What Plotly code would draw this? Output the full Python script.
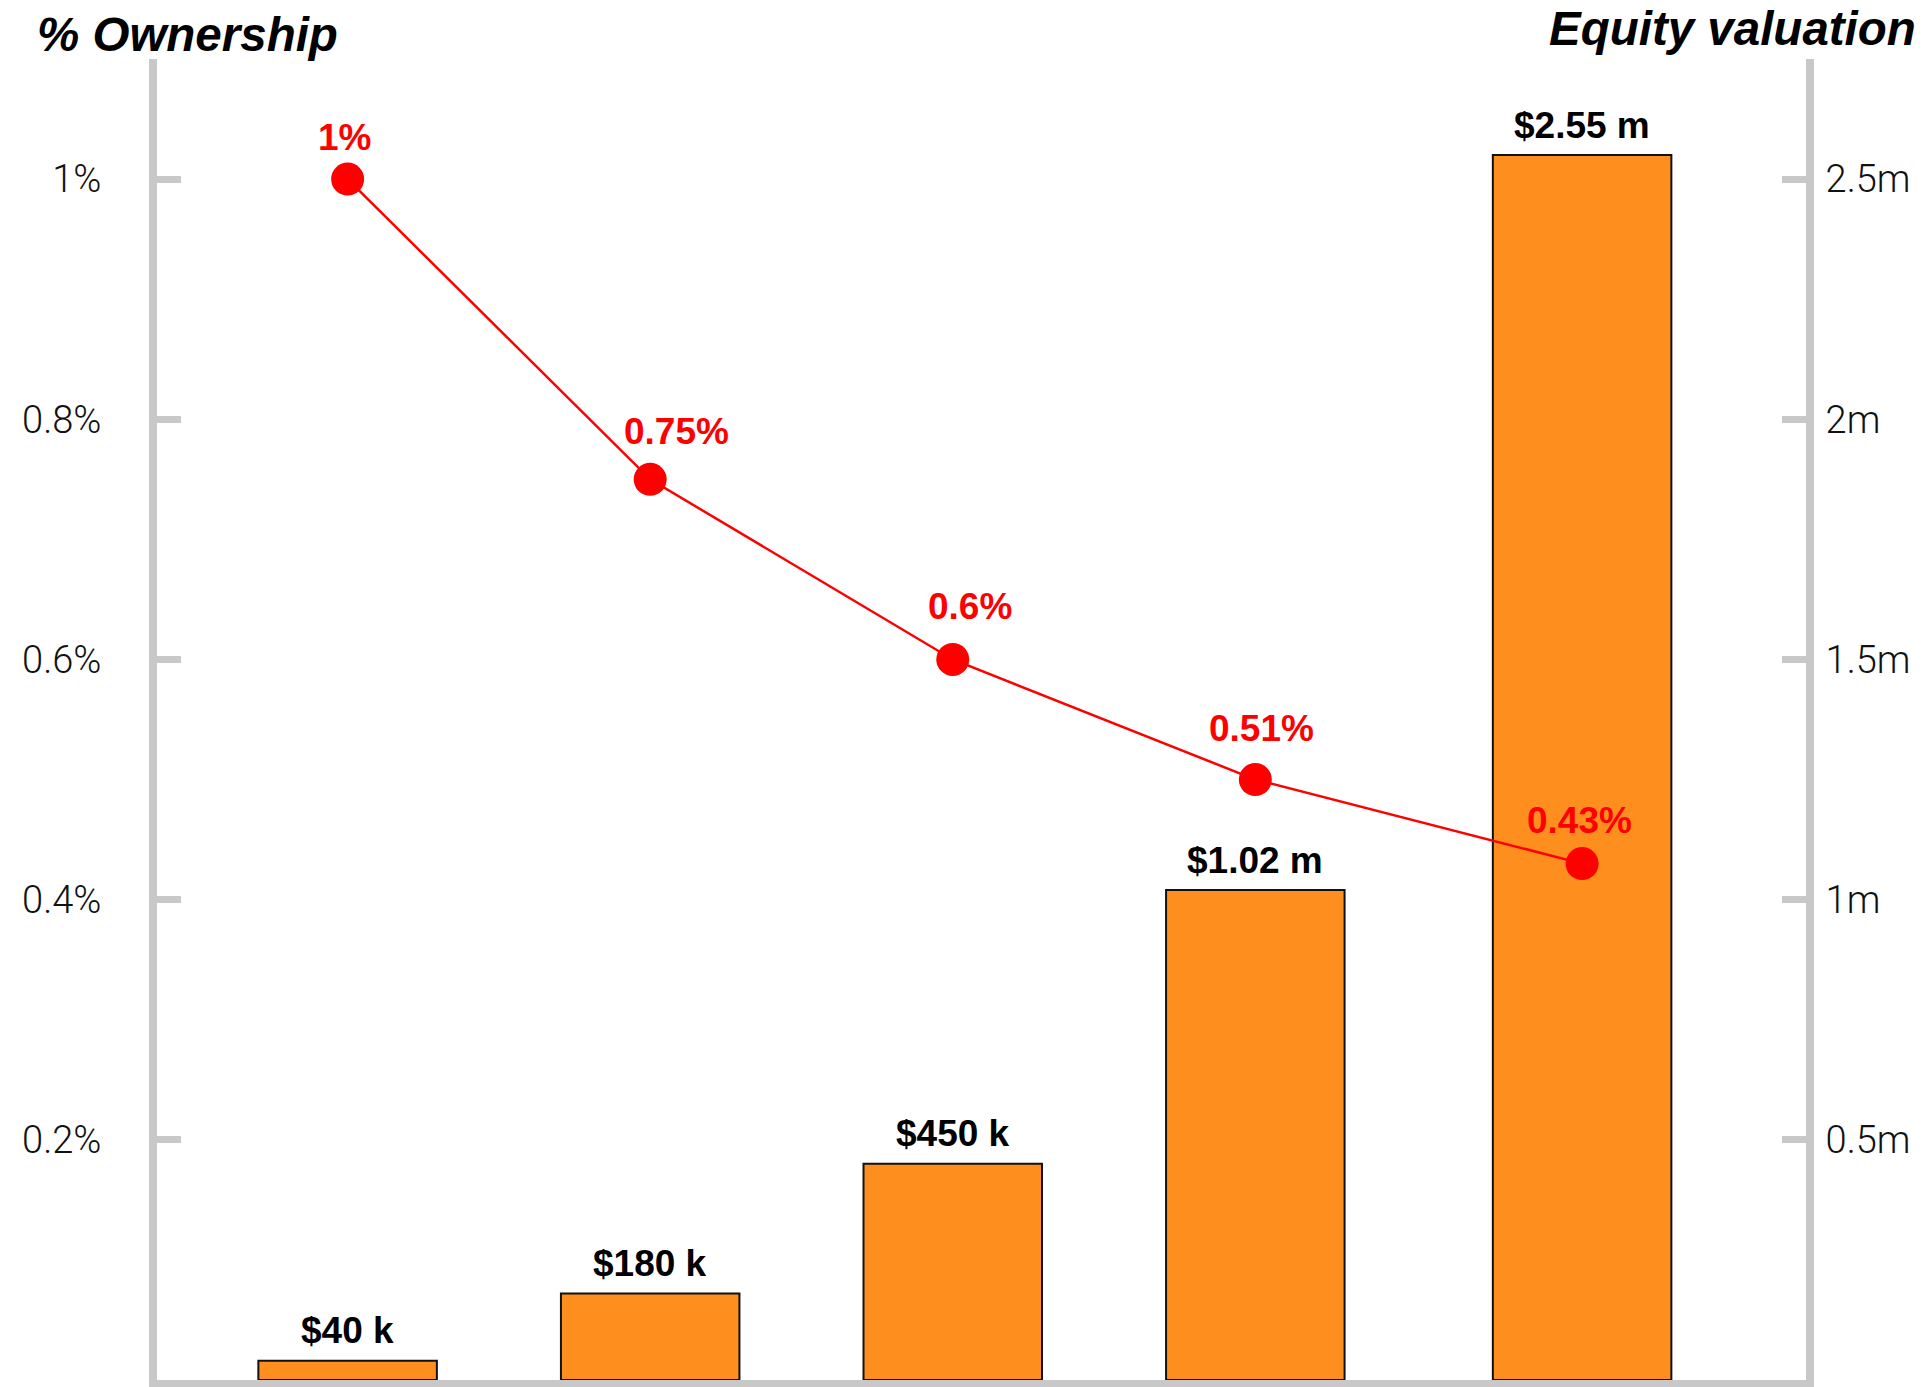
import plotly.graph_objects as go

# ---- data ----
rounds = [0, 1, 2, 3, 4.08]                      # funding stage positions
valuation_m = [0.04, 0.18, 0.45, 1.02, 2.55]     # equity valuation ($m)
valuation_labels = ["$40 k", "$180 k", "$450 k", "$1.02 m", "$2.55 m"]
ownership_pct = [1.0, 0.75, 0.6, 0.5, 0.43]      # % ownership
ownership_labels = ["1%", "0.75%", "0.6%", "0.51%", "0.43%"]

left_tickvals = [0.2, 0.4, 0.6, 0.8, 1.0]
left_ticktext = ["0.2%", "0.4%", "0.6%", "0.8%", "1%"]
right_tickvals = [0.5, 1.0, 1.5, 2.0, 2.5]
right_ticktext = ["0.5m", "1m", "1.5m", "2m", "2.5m"]

# ---- styles ----
AXIS_GREY = "#c8c8c8"
ORANGE = "#fe8f1f"
RED = "#ff0000"
label_dx = [-3, 26, 17, 6, -3]
label_dy = [42, 48, 53, 51, 43]

fig = go.Figure()
fig.add_trace(go.Bar(
    x=rounds, y=valuation_m, yaxis="y",
    width=0.59,
    marker=dict(color=ORANGE, line=dict(color="#111111", width=2)),
    hoverinfo="skip", showlegend=False,
))
fig.add_trace(go.Scatter(
    x=rounds, y=ownership_pct, yaxis="y2",
    mode="lines+markers",
    line=dict(color=RED, width=2.5),
    marker=dict(color=RED, size=33),
    hoverinfo="skip", showlegend=False,
))

annotations = []
for xv, yv, t in zip(rounds, valuation_m, valuation_labels):
    annotations.append(dict(
        x=xv, y=yv, xref="x", yref="y", text=t, showarrow=False,
        yanchor="middle", xanchor="center", yshift=30,
        font=dict(family="Liberation Sans", size=37, color="#000000", weight="bold"),
    ))
for xv, yv, t, dx, dy in zip(rounds, ownership_pct, ownership_labels, label_dx, label_dy):
    annotations.append(dict(
        x=xv, y=yv, xref="x", yref="y2", text=t, showarrow=False,
        yanchor="middle", xanchor="center", xshift=dx, yshift=dy,
        font=dict(family="Liberation Sans", size=37, color=RED, weight="bold"),
    ))
annotations.append(dict(
    x=0, y=1, xref="paper", yref="paper", text="% Ownership", showarrow=False,
    xanchor="left", yanchor="middle", xshift=-122, yshift=25,
    font=dict(family="Liberation Sans", size=47.5, color="#000000", weight="bold", style="italic"),
))
annotations.append(dict(
    x=1, y=1, xref="paper", yref="paper", text="Equity valuation", showarrow=False,
    xanchor="right", yanchor="middle", xshift=112, yshift=31,
    font=dict(family="Liberation Sans", size=47.5, color="#000000", weight="bold", style="italic"),
))

tick_font = dict(family="Roboto", size=38, color="#111111", weight=300)

fig.update_layout(
    width=1923, height=1387,
    margin=dict(l=157, r=117, t=59, b=7),
    paper_bgcolor="white", plot_bgcolor="white",
    annotations=annotations,
    xaxis=dict(
        range=[-0.63, 4.82], showgrid=False, zeroline=False,
        showticklabels=False, ticks="",
        showline=True, linecolor=AXIS_GREY, linewidth=7,
    ),
    yaxis=dict(
        side="right", range=[0, 2.75], showgrid=False, zeroline=False,
        tickvals=right_tickvals, ticktext=right_ticktext,
        ticks="inside", ticklen=24, tickwidth=7, tickcolor=AXIS_GREY,
        showline=True, linecolor=AXIS_GREY, linewidth=8,
        tickfont=tick_font, ticklabelstandoff=4,
    ),
    yaxis2=dict(
        overlaying="y", side="left", range=[0, 1.1], showgrid=False, zeroline=False,
        tickvals=left_tickvals, ticktext=left_ticktext,
        ticks="inside", ticklen=24, tickwidth=7, tickcolor=AXIS_GREY,
        showline=True, linecolor=AXIS_GREY, linewidth=8,
        tickfont=tick_font, ticklabelstandoff=40,
    ),
)

fig.write_html("out.html", config={"displayModeBar": False},
               post_script="document.body.style.margin='0';")
